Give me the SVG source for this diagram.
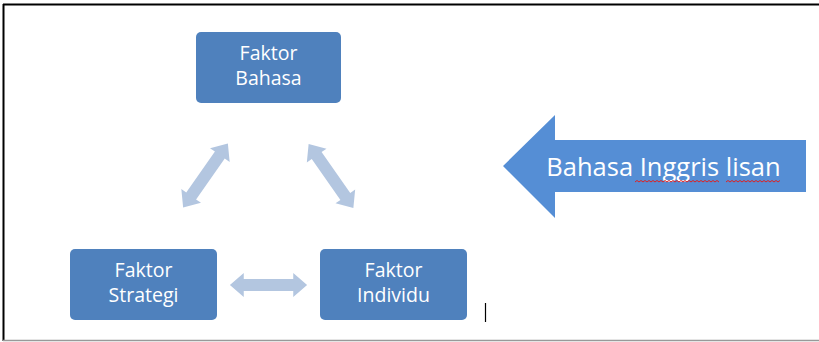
<svg xmlns="http://www.w3.org/2000/svg" width="819" height="342" viewBox="0 0 819 342">
<defs>
<style>
.box{fill:#4F81BD;}
.bt{font-family:"Open Sans","Liberation Sans",sans-serif;font-size:19.5px;fill:#FFFFFF;text-anchor:middle;}
.dbl{fill:#B3C6E0;}
.wavy{fill:none;stroke:#E02020;stroke-width:1;}
</style>
<path id="dbl" d="M-39,0 L-25,-12 L-25,-6 L25,-6 L25,-12 L39,0 L25,12 L25,6 L-25,6 L-25,12 Z"/>
</defs>
<rect x="0" y="0" width="819" height="342" fill="#FFFFFF"/>
<line x1="3.5" y1="4" x2="3.5" y2="341" stroke="#000" stroke-width="2"/>
<line x1="3" y1="4.5" x2="819" y2="4.5" stroke="#000" stroke-width="2"/>
<line x1="3" y1="340.5" x2="819" y2="340.5" stroke="#999" stroke-width="1.5"/>
<g id="connectors">
<use href="#dbl" class="dbl" transform="translate(268.5,285) scale(0.99,1)"/>
<use href="#dbl" class="dbl" transform="translate(205.5,175.5) rotate(-55)"/>
<use href="#dbl" class="dbl" transform="translate(331,176) rotate(55)"/>
</g>
<g id="faktor-bahasa">
<rect class="box" x="196" y="32" width="145" height="71" rx="5"/>
<text class="bt" x="268.5" y="60">Faktor</text>
<text class="bt" x="268.5" y="85">Bahasa</text>
</g>
<g id="faktor-strategi">
<rect class="box" x="70" y="249" width="147" height="71" rx="5"/>
<text class="bt" x="143.5" y="277">Faktor</text>
<text class="bt" x="143.5" y="302">Strategi</text>
</g>
<g id="faktor-individu">
<rect class="box" x="320" y="249" width="147" height="71" rx="5"/>
<text class="bt" x="393.5" y="277">Faktor</text>
<text class="bt" x="393.5" y="302">Individu</text>
</g>
<g id="bahasa-inggris-lisan">
<path d="M503,166 L555,115 L555,140 L806,140 L806,192 L555,192 L555,218 Z" fill="#558ED5"/>
<text x="663.5" y="176" font-family="'Open Sans','Liberation Sans',sans-serif" font-size="25.5" fill="#FFFFFF" text-anchor="middle">Bahasa Inggris lisan</text>
<path class="wavy" d="M635,182 l2,-1.5 l2,1.5 l2,-1.5 l2,1.5 l2,-1.5 l2,1.5 l2,-1.5 l2,1.5 l2,-1.5 l2,1.5 l2,-1.5 l2,1.5 l2,-1.5 l2,1.5 l2,-1.5 l2,1.5 l2,-1.5 l2,1.5 l2,-1.5 l2,1.5 l2,-1.5 l2,1.5 l2,-1.5 l2,1.5 l2,-1.5 l2,1.5 l2,-1.5 l2,1.5 l2,-1.5 l2,1.5 l2,-1.5 l2,1.5 l2,-1.5 l2,1.5 l2,-1.5 l2,1.5 l2,-1.5 l2,1.5 l2,-1.5 l2,1.5 l2,-1.5 l2,1.5"/>
<path class="wavy" d="M726,182 l2,-1.5 l2,1.5 l2,-1.5 l2,1.5 l2,-1.5 l2,1.5 l2,-1.5 l2,1.5 l2,-1.5 l2,1.5 l2,-1.5 l2,1.5 l2,-1.5 l2,1.5 l2,-1.5 l2,1.5 l2,-1.5 l2,1.5 l2,-1.5 l2,1.5 l2,-1.5 l2,1.5 l2,-1.5 l2,1.5 l2,-1.5 l2,1.5 l2,-1.5"/>
</g>
<line x1="485.5" y1="303" x2="485.5" y2="322" stroke="#000" stroke-width="1.2"/>
</svg>
